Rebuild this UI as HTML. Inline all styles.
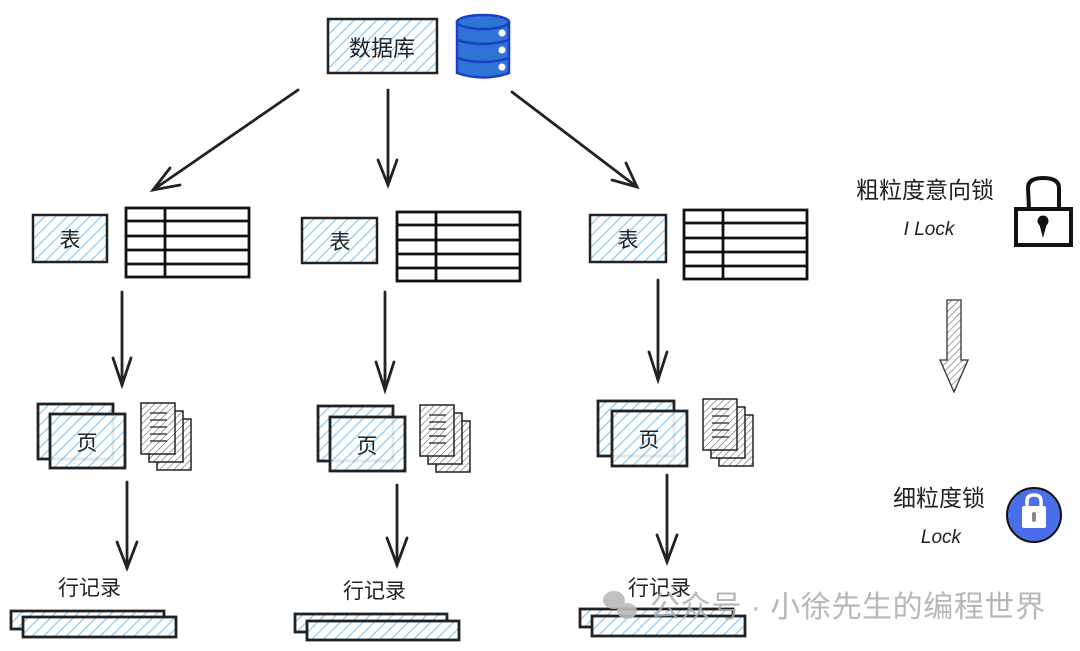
<!DOCTYPE html>
<html><head><meta charset="utf-8"><style>
html,body{margin:0;padding:0;background:#fff;}
svg{display:block}
text{font-family:"Liberation Sans","Noto Sans CJK SC",sans-serif;}
</style></head><body>
<svg width="1080" height="651" viewBox="0 0 1080 651" xmlns="http://www.w3.org/2000/svg">
<defs>
<pattern id="hb" width="8" height="8" patternUnits="userSpaceOnUse" patternTransform="rotate(45)">
<rect width="8" height="8" fill="#fff"/><line x1="0" y1="0" x2="0" y2="8" stroke="#8ccaf7" stroke-width="2.5"/></pattern>
<pattern id="hg" width="5" height="5" patternUnits="userSpaceOnUse" patternTransform="rotate(45)">
<rect width="5" height="5" fill="#fff"/><line x1="0" y1="0" x2="0" y2="5" stroke="#666" stroke-width="1.2"/></pattern>
<g id="tbl" fill="none" stroke="#111" stroke-width="2.8">
<rect x="0" y="0" width="123" height="69"/>
<line x1="0" y1="13" x2="123" y2="13"/><line x1="0" y1="28" x2="123" y2="28"/>
<line x1="0" y1="42" x2="123" y2="42"/><line x1="0" y1="56" x2="123" y2="56"/>
<line x1="39" y1="0" x2="39" y2="69"/></g>
<g id="docs" stroke="#222" stroke-width="1.5">
<rect x="16" y="16" width="34" height="51" fill="url(#hg)"/>
<rect x="8" y="8" width="34" height="51" fill="url(#hg)"/>
<rect x="0" y="0" width="34" height="51" fill="url(#hg)"/>
<g stroke-width="1.2"><line x1="9" y1="10" x2="26" y2="10"/><line x1="9" y1="17" x2="26" y2="17"/><line x1="9" y1="24" x2="26" y2="24"/><line x1="9" y1="31" x2="26" y2="31"/><line x1="9" y1="38" x2="26" y2="38"/></g></g>
</defs>
<g stroke="#222" stroke-width="2.8" fill="none" stroke-linecap="round">
<line x1="298" y1="90" x2="153" y2="190"/><polyline points="170,168 153,190 180,185"/>
<line x1="388" y1="90" x2="388" y2="185"/><polyline points="378,160 388,185 397,160"/>
<line x1="512" y1="92" x2="637" y2="187"/><polyline points="612,180 637,187 626,163"/>
<line x1="122" y1="292" x2="122" y2="385"/><polyline points="113,358 122,385 131,358"/>
<line x1="385" y1="292" x2="385" y2="390"/><polyline points="376,362 385,390 394,362"/>
<line x1="658" y1="280" x2="658" y2="380"/><polyline points="649,352 658,380 667,352"/>
<line x1="127" y1="482" x2="127" y2="568"/><polyline points="117,542 127,568 137,542"/>
<line x1="397" y1="485" x2="397" y2="565"/><polyline points="387,538 397,565 407,538"/>
<line x1="667" y1="475" x2="667" y2="562"/><polyline points="657,535 667,562 677,535"/>
</g>
<rect x="328" y="19" width="109" height="54" fill="url(#hb)" stroke="#222" stroke-width="2.5"/>
<text x="382" y="56" font-size="22" text-anchor="middle" fill="#222">数据库</text>
<g stroke="#1c3fc8" stroke-width="2.5">
<path d="M457,22 L457,73 Q483,82 509,73 L509,22 Z" fill="#2f74d6"/>
<ellipse cx="483" cy="22" rx="26" ry="7" fill="#2f74d6"/>
<path d="M457,40 Q483,48 509,40 M457,58 Q483,66 509,58" fill="none"/>
<circle cx="502" cy="33" r="3.5" fill="#fff" stroke="none"/><circle cx="502" cy="50" r="3.5" fill="#fff" stroke="none"/><circle cx="502" cy="67" r="3.5" fill="#fff" stroke="none"/>
</g>
<g stroke="#222" stroke-width="2.5">
<rect x="33" y="215" width="74" height="47" fill="url(#hb)"/>
<rect x="302" y="218" width="75" height="45" fill="url(#hb)"/>
<rect x="590" y="215" width="76" height="47" fill="url(#hb)"/>
</g>
<g font-size="21" fill="#222" text-anchor="middle">
<text x="70" y="247">表</text><text x="340" y="249">表</text><text x="628" y="247">表</text>
</g>
<use href="#tbl" x="126" y="208"/><use href="#tbl" x="397" y="212"/><use href="#tbl" x="684" y="210"/>
<g stroke="#222" stroke-width="2.8">
<rect x="38" y="404" width="75" height="55" fill="url(#hb)"/>
<rect x="50" y="414" width="75" height="54" fill="url(#hb)" fill-opacity="0.9"/>
<rect x="318" y="406" width="75" height="55" fill="url(#hb)"/>
<rect x="330" y="417" width="75" height="54" fill="url(#hb)" fill-opacity="0.9"/>
<rect x="598" y="401" width="76" height="55" fill="url(#hb)"/>
<rect x="612" y="411" width="75" height="55" fill="url(#hb)" fill-opacity="0.9"/>
</g>
<g font-size="21" fill="#222" text-anchor="middle">
<text x="87" y="450">页</text><text x="367" y="453">页</text><text x="649" y="447">页</text>
</g>
<use href="#docs" x="141" y="403"/><use href="#docs" x="420" y="405"/><use href="#docs" x="703" y="399"/>
<g font-size="21" fill="#222">
<text x="58" y="595">行记录</text><text x="343" y="598">行记录</text><text x="628" y="595">行记录</text>
</g>
<g stroke="#222" stroke-width="2.8" fill="url(#hb)">
<rect x="11" y="611" width="153" height="18"/><rect x="23" y="617" width="153" height="20"/>
<rect x="295" y="614" width="152" height="18"/><rect x="307" y="621" width="152" height="19"/>
<rect x="580" y="609" width="153" height="18"/><rect x="592" y="616" width="153" height="20"/>
</g>
<text x="925" y="198" font-size="23" text-anchor="middle" fill="#222">粗粒度意向锁</text>
<text x="929" y="235" font-size="19" text-anchor="middle" fill="#222" font-style="italic">I Lock</text>
<g stroke="#111" stroke-width="4" fill="none">
<path d="M1029,209 L1028,188 Q1028,178 1043,178 Q1059,178 1059,188 L1059,209"/>
<rect x="1016" y="209" width="55" height="36" fill="#fff"/>
</g>
<circle cx="1043" cy="221" r="5.5" fill="#111"/><path d="M1039,223 L1043,238 L1047,223Z" fill="#111"/>
<path d="M947,300 L961,300 L961,360 L968,360 L954,392 L940,360 L947,360Z" fill="url(#hg)" stroke="#333" stroke-width="1.3"/>
<text x="939" y="506" font-size="23" text-anchor="middle" fill="#222">细粒度锁</text>
<text x="941" y="543" font-size="19" text-anchor="middle" fill="#222" font-style="italic">Lock</text>
<circle cx="1034" cy="515" r="27" fill="#4a6ee8" stroke="#111" stroke-width="2"/>
<path d="M1027,507 L1027,501 Q1027,495 1034,495 Q1041,495 1041,501 L1041,507" fill="none" stroke="#fff" stroke-width="3.5"/>
<rect x="1022" y="506" width="24" height="22" rx="2" fill="#fff"/>
<rect x="1032" y="512" width="4" height="10" rx="2" fill="#888"/>
<g fill="#bbb" opacity="0.9">
<ellipse cx="614" cy="600" rx="11" ry="9"/><ellipse cx="627" cy="611" rx="10" ry="8"/>
</g>
<text x="650" y="617" font-size="30" fill="#aaa" fill-opacity="0.85" textLength="395" lengthAdjust="spacing">公众号 · 小徐先生的编程世界</text>
</svg>
</body></html>
